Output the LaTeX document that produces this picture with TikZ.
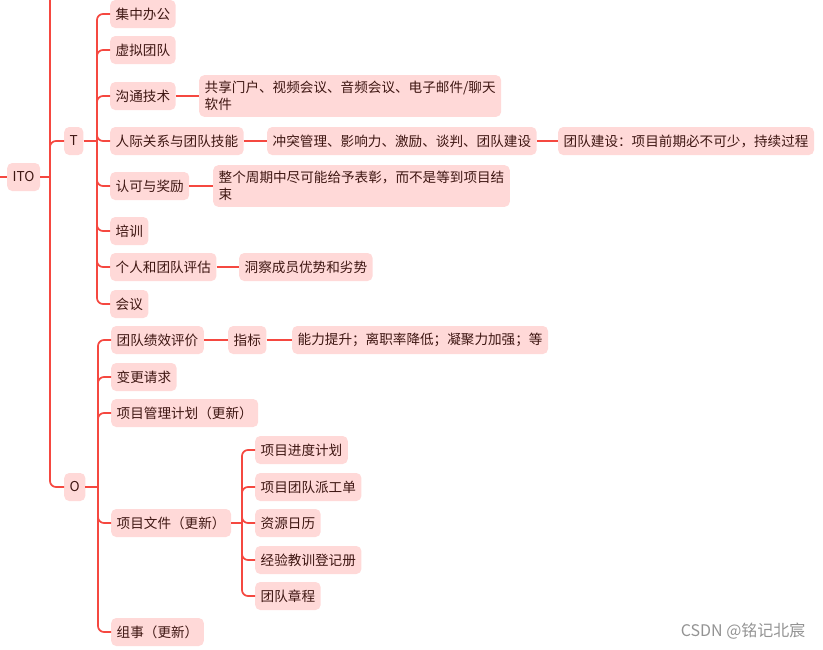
\documentclass[tikz,border=0pt]{standalone}
\usepackage{fontspec}
\setmainfont{Noto Sans CJK SC}
\usepackage{xcolor}
\usetikzlibrary{positioning}
\definecolor{boxpink}{RGB}{255,217,216}
\definecolor{linered}{RGB}{245,72,64}
\definecolor{txtbrown}{RGB}{62,22,18}
\tikzset{
  box/.style={fill=boxpink, rounded corners=5pt, inner xsep=5.5pt, inner ysep=0pt,
    minimum height=28pt, anchor=west, text=txtbrown, font=\fontsize{13.6}{17}\selectfont},
  box2/.style={box, align=left, inner ysep=6pt},
  link/.style={draw=linered, line width=1.7pt, rounded corners=6pt},
}
\begin{document}
\begin{tikzpicture}[x=1pt, y=-1pt]
    \useasboundingbox (0,0) rectangle (823,649);

    % 根与第一层
    \node[box] (ito) at (7,177) {ITO};
    \node[box] (t) at (64,141) {T};
    \node[box] (o) at (64,487) {O};
    \coordinate (itoIn) at (0,177);
    \coordinate (itoTop) at (50,0);
    \coordinate (itoJ) at (50,177);
    \draw[link] (itoIn) -- (ito.west);
    \draw[link] (ito.east) -- (itoJ);
    \draw[link] (itoTop) |- (o.west);
    \draw[link] (itoJ) |- (t.west);

    % T 的分支
    \node[box] (jzbg) at (110,14) {集中办公};
    \node[box] (xntd) at (110,50) {虚拟团队};
    \node[box] (gtjs) at (110,96) {沟通技术};
    \node[box] (rjgx) at (110,141) {人际关系与团队技能};
    \node[box] (rkjl) at (110,186) {认可与奖励};
    \node[box] (px) at (110,231) {培训};
    \node[box] (grpg) at (110,267) {个人和团队评估};
    \node[box] (hy) at (110,304) {会议};
    \coordinate (tJ) at (97,141);
    \draw[link] (t.east) -- (tJ);
    \foreach \n in {jzbg, xntd, gtjs, rjgx, rkjl, px, grpg, hy}
        \draw[link] (tJ) |- (\n.west);

    % T 的下一层
    \node[box2] (gtjs1) at (199,96) {共享门户、视频会议、音频会议、电子邮件/聊天\\软件};
    \node[box] (rjgx1) at (267,141) {冲突管理、影响力、激励、谈判、团队建设};
    \node[box] (rjgx2) at (558,141) {团队建设：项目前期必不可少，持续过程};
    \node[box2] (rkjl1) at (213,186) {整个周期中尽可能给予表彰，而不是等到项目结\\束};
    \node[box] (grpg1) at (239,267) {洞察成员优势和劣势};
    \draw[link] (gtjs.east) -- (gtjs1.west);
    \draw[link] (rjgx.east) -- (rjgx1.west);
    \draw[link] (rjgx1.east) -- (rjgx2.west);
    \draw[link] (rkjl.east) -- (rkjl1.west);
    \draw[link] (grpg.east) -- (grpg1.west);

    % O 的分支
    \node[box] (tdjx) at (111,340) {团队绩效评价};
    \node[box] (bgqq) at (111,377) {变更请求};
    \node[box] (xmgl) at (111,413) {项目管理计划（更新）};
    \node[box] (xmwj) at (111,523) {项目文件（更新）};
    \node[box] (zs) at (111,632) {组事（更新）};
    \coordinate (oJ) at (98,487);
    \draw[link] (o.east) -- (oJ);
    \foreach \n in {tdjx, bgqq, xmgl, xmwj, zs}
        \draw[link] (oJ) |- (\n.west);

    \node[box] (zb) at (228,340) {指标};
    \node[box] (zb1) at (292,340) {能力提升；离职率降低；凝聚力加强；等};
    \draw[link] (tdjx.east) -- (zb.west);
    \draw[link] (zb.east) -- (zb1.west);

    % 项目文件的分支
    \node[box] (jdjh) at (255,450) {项目进度计划};
    \node[box] (pgd) at (255,487) {项目团队派工单};
    \node[box] (zyrl) at (255,523) {资源日历};
    \node[box] (jyjx) at (255,560) {经验教训登记册};
    \node[box] (tdzc) at (255,596) {团队章程};
    \coordinate (wjJ) at (242,523);
    \draw[link] (xmwj.east) -- (wjJ);
    \foreach \n in {jdjh, pgd, zyrl, jyjx, tdzc}
        \draw[link] (wjJ) |- (\n.west);

    % 水印
    \node[anchor=east, text=gray!85, font=\fontsize{16}{18}\selectfont] (wm) at (809,631) {CSDN @铭记北宸};
\end{tikzpicture}
\end{document}
